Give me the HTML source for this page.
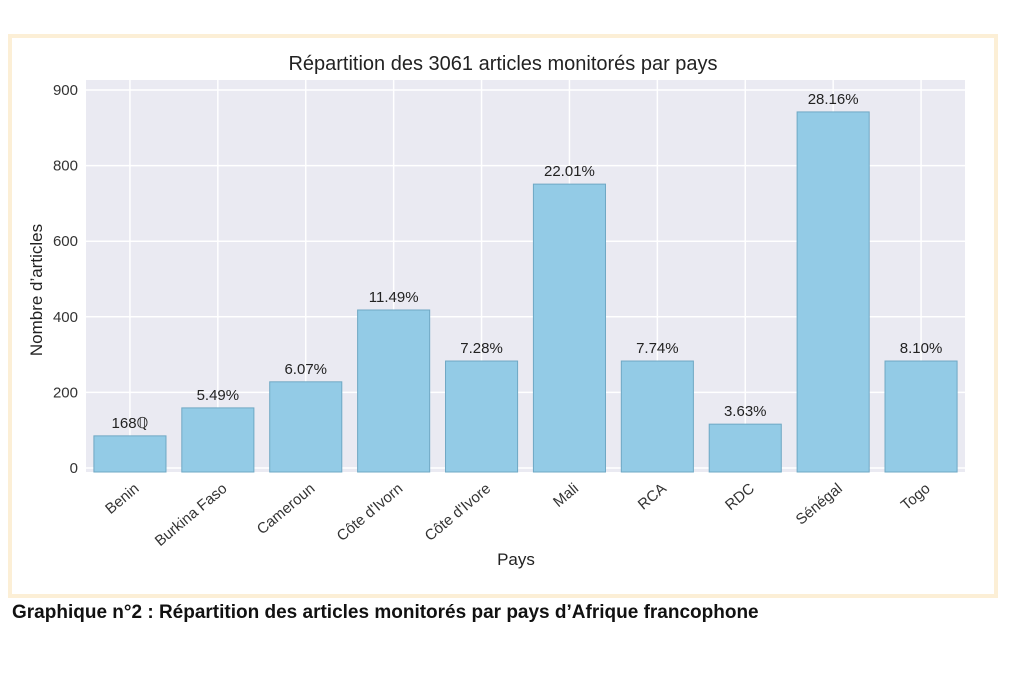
<!DOCTYPE html>
<html><head><meta charset="utf-8"><style>
body{margin:0;width:1024px;height:683px;background:#fff;overflow:hidden;font-family:"Liberation Sans",sans-serif}
#frame{position:absolute;left:8px;top:34px;width:982px;height:556px;border:4px solid #fcefd6;background:#fff}
#cap{position:absolute;left:12px;top:602px;font-weight:bold;font-size:19px;color:#111}
</style></head><body>
<div id="frame"></div>
<svg id="chart" width="1024" height="683" style="position:absolute;left:0;top:0"></svg>
<div id="cap">Graphique n°2 : Répartition des articles monitorés par pays d’Afrique francophone</div>
<script>
const categories=["Benin","Burkina Faso","Cameroun","Côte d'Ivorn","Côte d'Ivore","Mali","RCA","RDC","Sénégal","Togo"];
const values=[85,159,228,418,283,751,283,116,942,283];
const pctLabels=["168ℚ","5.49%","6.07%","11.49%","7.28%","22.01%","7.74%","3.63%","28.16%","8.10%"];
const tickValues=[0,200,400,600,800,1000];
const tickLabels=["0","200","400","600","800","900"];
const NS="http://www.w3.org/2000/svg",svg=document.getElementById('chart');
const L=86,R=965,T=80,B=472,Y0=468,k=0.378;
const y=v=>Y0-v*k;
const band=(R-L)/categories.length;
const x=i=>L+band*(i+0.5);
function mk(t,a,p){const e=document.createElementNS(NS,t);for(const n in a)e.setAttribute(n,a[n]);(p||svg).appendChild(e);return e;}
const bg=mk('rect',{x:L,y:T,width:R-L,height:B-T,fill:'#eaeaf2'});


tickValues.forEach((v,i)=>{
 const g=mk('line',{x1:L,x2:R,y1:y(v),y2:y(v),stroke:'#fff','stroke-width':1.5});
 
 
 const t=mk('text',{x:L-8,y:y(v)+5,'text-anchor':'end','font-size':15,fill:'#333'});t.textContent=tickLabels[i];
 
 
});
categories.forEach((c,i)=>{
 const gv=mk('line',{x1:x(i),x2:x(i),y1:T,y2:B,stroke:'#fff','stroke-width':1.5});
 
 
});
categories.forEach((c,i)=>{
 const w=band*0.82;
 const r=mk('rect',{x:x(i)-w/2,y:y(values[i]),width:w,height:B-y(values[i]),fill:'#93cbe6',stroke:'#6fa8c4','stroke-width':1});
 
 
 const t=mk('text',{x:x(i),y:y(values[i])-8,'text-anchor':'middle','font-size':15,fill:'#222'});t.textContent=pctLabels[i];
 
 
 const xl=mk('text',{x:x(i)+10,y:B+18,'text-anchor':'end','font-size':15,fill:'#333',transform:`rotate(-40 ${x(i)+10} ${B+18})`});xl.textContent=c;
 
 
});
const ti=mk('text',{x:503,y:70,'text-anchor':'middle','font-size':20,fill:'#222'});ti.textContent='Répartition des 3061 articles monitorés par pays';


const xt=mk('text',{x:516,y:565,'text-anchor':'middle','font-size':17,fill:'#222'});xt.textContent='Pays';


const yt=mk('text',{x:42,y:290,'text-anchor':'middle','font-size':17,fill:'#222',transform:'rotate(-90 42 290)'});yt.textContent='Nombre d’articles';


</script>
</body></html>
